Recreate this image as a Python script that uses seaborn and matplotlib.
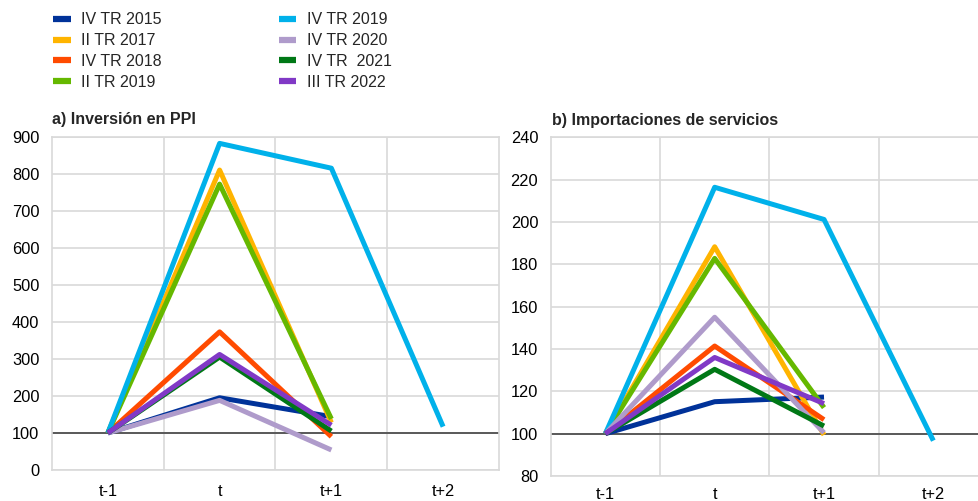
import matplotlib
matplotlib.use("Agg")
import matplotlib.pyplot as plt
import seaborn as sns
import pandas as pd
import numpy as np

# horizon labels
periods = ["t-1", "t", "t+1", "t+2"]

series = ["IV TR 2015", "II TR 2017", "IV TR 2018", "II TR 2019",
          "IV TR 2019", "IV TR 2020", "IV TR  2021", "III TR 2022"]
colors = ["#003299", "#FFB400", "#FF4B00", "#65B800",
          "#00B1EA", "#AF9BCB", "#007816", "#8139C6"]

# a) Inversión en PPI
ppi = {
    "IV TR 2015": [100, 195, 144, None],
    "II TR 2017": [100, 810, 128, None],
    "IV TR 2018": [100, 373, 90, None],
    "II TR 2019": [100, 772, 138, None],
    "IV TR 2019": [100, 882, 815, 117],
    "IV TR 2020": [100, 188, 54, None],
    "IV TR  2021": [100, 305, 105, None],
    "III TR 2022": [100, 312, 121, None],
}

# b) Importaciones de servicios
imports = {
    "IV TR 2015": [100, 115.1, 117.3, None],
    "II TR 2017": [100, 188.3, 99.4, None],
    "IV TR 2018": [100, 141.4, 106.6, None],
    "II TR 2019": [100, 182.8, 112.3, None],
    "IV TR 2019": [100, 216.4, 201.2, 96.7],
    "IV TR 2020": [100, 155.0, 100.4, None],
    "IV TR  2021": [100, 130.4, 103.6, None],
    "III TR 2022": [100, 136.0, 114.2, None],
}


def to_long(data):
    rows = []
    for name in series:
        for i, v in enumerate(data[name]):
            if v is not None:
                rows.append({"serie": name, "pos": i, "valor": v})
    return pd.DataFrame(rows)


sns.set_style("white")
plt.rcParams["font.family"] = ["Liberation Sans", "DejaVu Sans"]
grid_col = "#d9d9d9"
palette = dict(zip(series, colors))

fig = plt.figure(figsize=(9.79, 5.01), dpi=100)
ax1 = fig.add_axes([0.0531, 0.0619, 0.4566, 0.6652])
ax2 = fig.add_axes([0.5625, 0.0499, 0.4467, 0.6760])


def style_axis(ax, df, yticks, title, xpad):
    sns.lineplot(data=df, x="pos", y="valor", hue="serie", hue_order=series,
                 palette=palette, linewidth=3.6, legend=False, ax=ax,
                 solid_capstyle="butt", zorder=3)
    ax.set_xlim(-0.5, 3.5)
    ax.set_ylim(yticks[0], yticks[-1])
    ax.set_yticks(yticks)
    ax.set_xticks(range(len(periods)))
    ax.set_xticklabels(periods)
    ax.set_xticks([0.5, 1.5, 2.5], minor=True)
    ax.grid(True, which="major", axis="y", color=grid_col, lw=1.2)
    ax.grid(True, which="minor", axis="x", color=grid_col, lw=1.2)
    ax.grid(False, which="major", axis="x")
    ax.set_axisbelow(True)
    ax.axhline(100, color="#595959", lw=1.4, zorder=2)
    for s in ax.spines.values():
        s.set_color(grid_col)
        s.set_linewidth(1.2)
    ax.tick_params(axis="both", which="both", length=0, labelsize=11.8,
                   colors="#000000")
    ax.tick_params(axis="y", pad=9)
    ax.tick_params(axis="x", pad=xpad)
    ax.set_xlabel("")
    ax.set_ylabel("")
    ax.text(0.0, 1.03, title, transform=ax.transAxes, fontsize=11.5,
            fontweight="bold", ha="left", va="bottom")


style_axis(ax1, to_long(ppi), list(range(0, 1000, 100)),
           "a) Inversión en PPI", 10)
style_axis(ax2, to_long(imports), list(range(80, 260, 20)),
           "b) Importaciones de servicios", 8)
ax2.texts[0].set_position((0.002, 1.028))

handles = [plt.Line2D([], [], color=c, lw=4.5, solid_capstyle="butt") for c in colors]
fig.legend(handles, series, loc="upper left", ncol=2,
           bbox_to_anchor=(53 / 979, 1 - 12.5 / 501), frameon=False,
           fontsize=11.5, handlelength=1.1, handletextpad=0.68,
           columnspacing=7.3, labelspacing=0.36, borderpad=0,
           borderaxespad=0)

fig.savefig("out.png", dpi=100)
